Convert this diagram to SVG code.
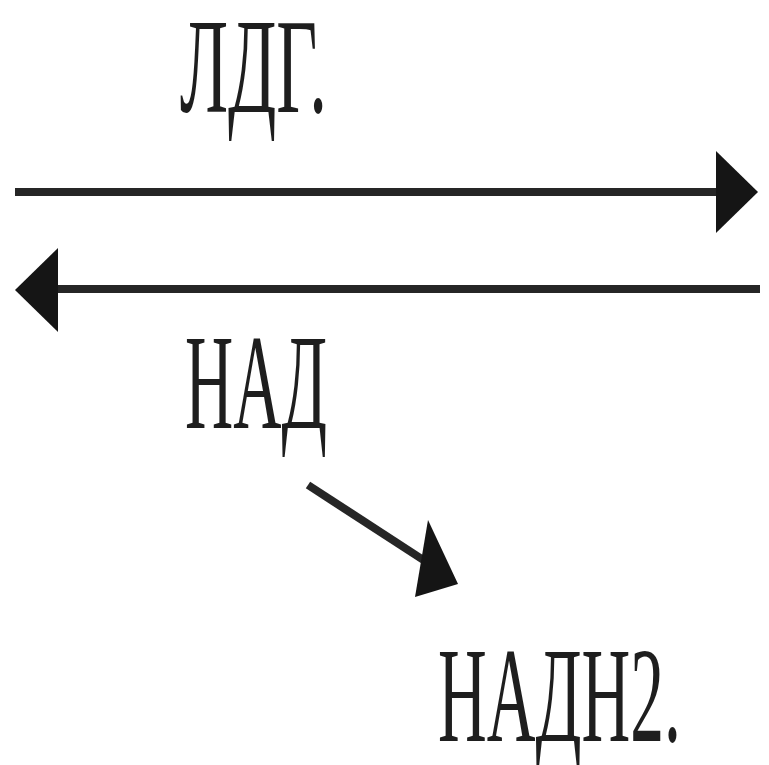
<svg xmlns="http://www.w3.org/2000/svg" width="769" height="765" viewBox="0 0 769 765">
<style>
.lbl{font-family:"Liberation Serif","Times New Roman",serif;font-size:136px;fill:#1e1e1e}
.ln{stroke:#262626;stroke-width:8;fill:none}
.hd{fill:#151515}
</style>
<rect width="769" height="765" fill="#ffffff"/>
<g id="connectors">
<line class="ln" x1="15" y1="192" x2="722" y2="192"/>
<polygon class="hd" points="716,151 758,192 716,233"/>
<line class="ln" x1="52" y1="289" x2="760" y2="289"/>
<polygon class="hd" points="58,248 15,290 58,332"/>
<line class="ln" x1="308" y1="485" x2="428" y2="563"/>
<polygon class="hd" points="428,520 458,584 415,597"/>
</g>
<g id="node-ldg" transform="scale(0.5,1)"><text class="lbl" x="360" y="112" textLength="294" lengthAdjust="spacingAndGlyphs">ЛДГ.</text></g>
<g id="node-nad" transform="scale(0.5,1)"><text class="lbl" x="370" y="428" textLength="284" lengthAdjust="spacingAndGlyphs">НАД</text></g>
<g id="node-nadh2" transform="scale(0.5,1)"><text class="lbl" x="876" y="741" textLength="486" lengthAdjust="spacingAndGlyphs">НАДН2.</text></g>
</svg>
